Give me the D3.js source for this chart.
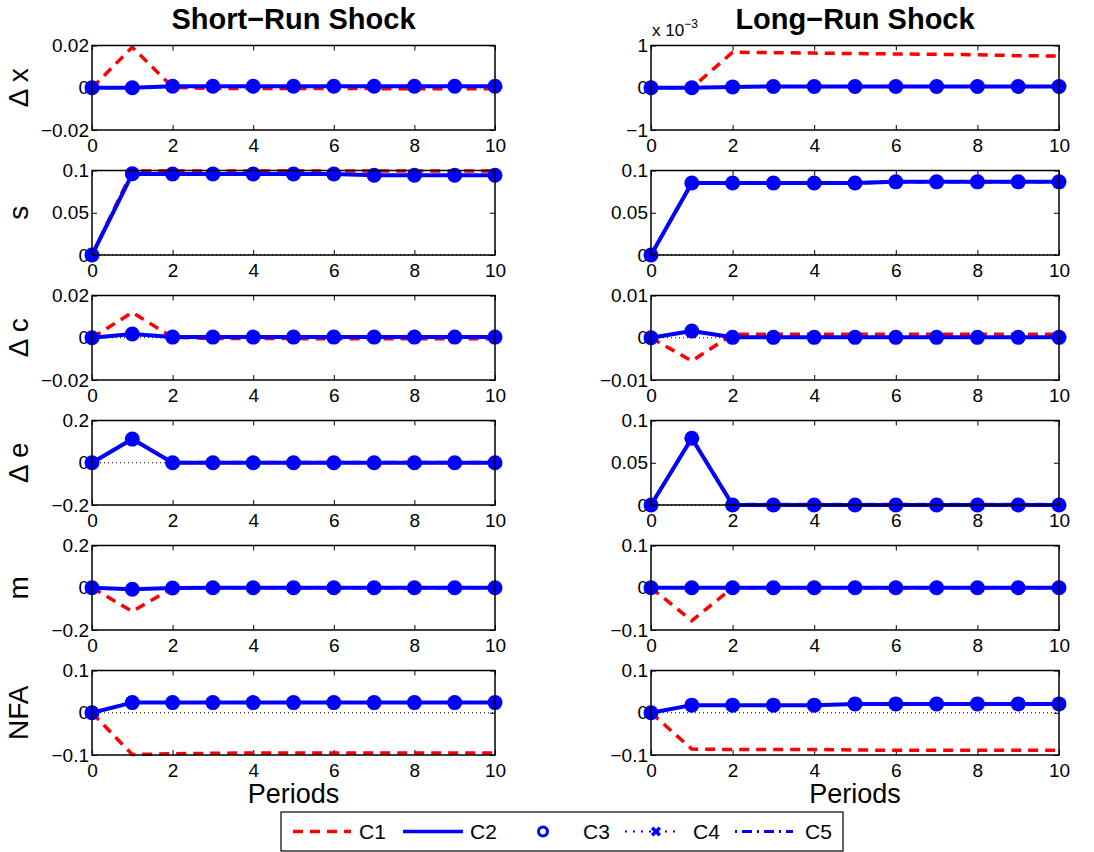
<!DOCTYPE html>
<html>
<head>
<meta charset="utf-8">
<script src="https://cdn.jsdelivr.net/npm/d3@7"></script>
<style>
  body { margin: 0; background: #fff; }
  svg { display: block; font-family: "Liberation Sans", Arial, sans-serif; }
</style>
</head>
<body>
<svg id="chart" width="1094" height="852"></svg>
<script>
// periods on the x axis
const periods = [0, 1, 2, 3, 4, 5, 6, 7, 8, 9, 10];
const xTicks = [0, 2, 4, 6, 8, 10];

const rowLabels = ['Δ x', 's', 'Δ c', 'Δ e', 'm', 'NFA'];
const colTitles = ['Short\u2212Run Shock', 'Long\u2212Run Shock'];
const legendNames = ['C1', 'C2', 'C3', 'C4', 'C5'];

// short-run shock, C1 (red dashed) and C2 (blue with markers)
const srDxC1  = [0, 0.0192, 0.0002, -0.0003, -0.0003, -0.0004, -0.0004, -0.0004, -0.0005, -0.0005, -0.0005];
const srDxC2  = [0, 0.0000, 0.0007, 0.0007, 0.0007, 0.0007, 0.0007, 0.0007, 0.0007, 0.0007, 0.0007];
const srSC1   = [0, 0.0993, 0.0993, 0.0993, 0.0993, 0.0993, 0.0993, 0.0993, 0.0993, 0.0993, 0.0993];
const srSC2   = [0, 0.0961, 0.0958, 0.0958, 0.0958, 0.0958, 0.0958, 0.0943, 0.0943, 0.0943, 0.0943];
const srDcC1  = [0, 0.0120, 0.0002, -0.0004, -0.0004, -0.0004, -0.0005, -0.0005, -0.0005, -0.0005, -0.0005];
const srDcC2  = [0, 0.0018, 0.0003, 0.0003, 0.0003, 0.0003, 0.0003, 0.0003, 0.0003, 0.0003, 0.0003];
const srDeC1  = [0, 0.112, 0.001, 0.001, 0.001, 0.001, 0.001, 0.001, 0.001, 0.001, 0.001];
const srDeC2  = [0, 0.112, 0.000, 0.000, 0.000, 0.000, 0.000, 0.000, 0.000, 0.000, 0.000];
const srMC1   = [0, -0.112, -0.001, 0, 0, 0, 0, 0, 0, 0, 0];
const srMC2   = [0, -0.007, -0.001, 0, 0, 0, 0, 0, 0, 0, 0];
const srNfaC1 = [0, -0.099, -0.097, -0.096, -0.095, -0.095, -0.095, -0.095, -0.095, -0.095, -0.095];
const srNfaC2 = [0, 0.024, 0.024, 0.024, 0.024, 0.024, 0.024, 0.024, 0.024, 0.024, 0.024];

// long-run shock
const lrDxC1  = [0, 0, 0.00084, 0.00083, 0.00082, 0.00081, 0.00080, 0.00079, 0.00078, 0.00076, 0.00075];
const lrDxC2  = [0, 0, 0.00002, 0.00003, 0.00003, 0.00003, 0.00003, 0.00003, 0.00003, 0.00003, 0.00003];
const lrSC1   = [0, 0.0852, 0.0852, 0.0852, 0.0852, 0.0852, 0.0866, 0.0866, 0.0866, 0.0866, 0.0866];
const lrSC2   = [0, 0.0852, 0.0852, 0.0852, 0.0852, 0.0852, 0.0866, 0.0866, 0.0866, 0.0866, 0.0866];
const lrDcC1  = [0, -0.0055, 0.0008, 0.0008, 0.0008, 0.0008, 0.0008, 0.0008, 0.0008, 0.0008, 0.0008];
const lrDcC2  = [0, 0.0016, 0.0001, 0.0001, 0.0001, 0.0001, 0.0001, 0.0001, 0.0001, 0.0001, 0.0001];
const lrDeC1  = [0, 0.079, 0.0005, 0.0005, 0.0005, 0.0005, 0.0005, 0.0005, 0.0005, 0.0005, 0.0005];
const lrDeC2  = [0, 0.079, 0, 0, 0, 0, 0, 0, 0, 0, 0];
const lrMC1   = [0, -0.078, 0, 0, 0, 0, 0, 0, 0, 0, 0];
const lrMC2   = [0, 0, 0, 0, 0, 0, 0, 0, 0, 0, 0];
const lrNfaC1 = [0, -0.086, -0.087, -0.087, -0.087, -0.088, -0.089, -0.089, -0.089, -0.089, -0.089];
const lrNfaC2 = [0, 0.018, 0.018, 0.018, 0.018, 0.021, 0.021, 0.021, 0.021, 0.021, 0.021];

// y axis ranges and tick labels
const srDomains = [[-0.02, 0.02], [0, 0.1], [-0.02, 0.02], [-0.2, 0.2], [-0.2, 0.2], [-0.1, 0.1]];
const lrDomains = [[-0.001, 0.001], [0, 0.1], [-0.01, 0.01], [0, 0.1], [-0.1, 0.1], [-0.1, 0.1]];
const srTickLabels = [['\u22120.02', '0', '0.02'], ['0', '0.05', '0.1'], ['\u22120.02', '0', '0.02'],
                      ['\u22120.2', '0', '0.2'], ['\u22120.2', '0', '0.2'], ['\u22120.1', '0', '0.1']];
const lrTickLabels = [['\u22121', '0', '1'], ['0', '0.05', '0.1'], ['\u22120.01', '0', '0.01'],
                      ['0', '0.05', '0.1'], ['\u22120.1', '0', '0.1'], ['\u22120.1', '0', '0.1']];

const columns = [
  { c1: [srDxC1, srSC1, srDcC1, srDeC1, srMC1, srNfaC1],
    c2: [srDxC2, srSC2, srDcC2, srDeC2, srMC2, srNfaC2],
    domains: srDomains, labels: srTickLabels, left: 92, right: 495 },
  { c1: [lrDxC1, lrSC1, lrDcC1, lrDeC1, lrMC1, lrNfaC1],
    c2: [lrDxC2, lrSC2, lrDcC2, lrDeC2, lrMC2, lrNfaC2],
    domains: lrDomains, labels: lrTickLabels, left: 651, right: 1059 }
];

const RED = '#ff0000';
const BLUE = '#0000ff';
const TOP0 = 45.5, STEP = 125, PH = 84.5;

const svg = d3.select('#chart');

columns.forEach((col, ci) => {
  const x = d3.scaleLinear().domain([0, 10]).range([col.left, col.right]);

  svg.append('text')
    .attr('x', (col.left + col.right) / 2).attr('y', 29)
    .attr('text-anchor', 'middle')
    .attr('font-size', 29).attr('font-weight', 'bold')
    .text(colTitles[ci]);

  svg.append('text')
    .attr('x', (col.left + col.right) / 2).attr('y', 803)
    .attr('text-anchor', 'middle')
    .attr('font-size', 27)
    .text('Periods');

  col.c1.forEach((_, ri) => {
    const top = TOP0 + STEP * ri;
    const dom = col.domains[ri];
    const y = d3.scaleLinear().domain(dom).range([top + PH, top]);
    const yTicks = [dom[0], (dom[0] + dom[1]) / 2, dom[1]];
    const g = svg.append('g');

    // zero reference line
    g.append('line')
      .attr('x1', x(0)).attr('x2', x(10))
      .attr('y1', y(0)).attr('y2', y(0))
      .attr('stroke', '#000').attr('stroke-width', 1)
      .attr('stroke-dasharray', '1,3');

    // axes with inward ticks
    const bottom = g.append('g').attr('transform', `translate(0,${top + PH})`)
      .call(d3.axisBottom(x).tickValues(xTicks).tickSizeInner(-5).tickSizeOuter(0).tickPadding(4));
    const topAx = g.append('g').attr('transform', `translate(0,${top})`)
      .call(d3.axisTop(x).tickValues(xTicks).tickSizeInner(-5).tickSizeOuter(0).tickFormat(''));
    const leftAx = g.append('g').attr('transform', `translate(${col.left},0)`)
      .call(d3.axisLeft(y).tickValues(yTicks).tickSizeInner(-5).tickSizeOuter(0).tickPadding(3)
        .tickFormat((d, i) => col.labels[ri][i]));
    const rightAx = g.append('g').attr('transform', `translate(${col.right},0)`)
      .call(d3.axisRight(y).tickValues(yTicks).tickSizeInner(-5).tickSizeOuter(0).tickFormat(''));
    [bottom, topAx, leftAx, rightAx].forEach(a => {
      a.select('.domain').remove();
      a.selectAll('line').attr('stroke', '#000');
      a.selectAll('text').attr('font-size', 19).attr('font-family', '"Liberation Sans", Arial, sans-serif').attr('fill', '#000');
    });
    bottom.selectAll('text').attr('dy', '0.95em');

    const line = d3.line().x((d, i) => x(periods[i])).y(d => y(d));

    g.append('path').datum(col.c1[ri])
      .attr('d', line).attr('fill', 'none')
      .attr('stroke', RED).attr('stroke-width', 3.5)
      .attr('stroke-dasharray', '10,7');

    g.append('path').datum(col.c2[ri])
      .attr('d', line).attr('fill', 'none')
      .attr('stroke', BLUE).attr('stroke-width', 4)
      .attr('stroke-linejoin', 'round');

    g.selectAll('circle.m').data(col.c2[ri]).enter().append('circle')
      .attr('class', 'm')
      .attr('cx', (d, i) => x(periods[i])).attr('cy', d => y(d))
      .attr('r', 7.5).attr('fill', BLUE);

    // plot frame
    g.append('rect')
      .attr('x', col.left).attr('y', top)
      .attr('width', col.right - col.left).attr('height', PH)
      .attr('fill', 'none').attr('stroke', '#000').attr('stroke-width', 1.5);

    if (ci === 0) {
      svg.append('text')
        .attr('transform', `translate(28,${top + PH / 2}) rotate(-90)`)
        .attr('text-anchor', 'middle')
        .attr('font-size', 28)
        .text(rowLabels[ri]);
    }
    if (ci === 1 && ri === 0) {
      const t = svg.append('text').attr('x', col.left + 1).attr('y', 36).attr('font-size', 17);
      t.append('tspan').text('x 10');
      t.append('tspan').attr('font-size', 12).attr('dy', -8).text('\u22123');
    }
  });
});

// legend
const lg = svg.append('g');
lg.append('rect').attr('x', 281).attr('y', 812).attr('width', 562).attr('height', 39)
  .attr('fill', '#fff').attr('stroke', '#000').attr('stroke-width', 1.2);
const ly = 831.5;
const legendItems = [
  { x0: 293, x1: 351, tx: 359, stroke: RED, width: 3.5, dash: '10,7' },
  { x0: 403, x1: 463, tx: 470, stroke: BLUE, width: 3.5, dash: null },
  { x0: null, mark: 543, tx: 583 },
  { x0: 625, x1: 680, tx: 693, stroke: BLUE, width: 2, dash: '2,6', cross: 656 },
  { x0: 735, x1: 793, tx: 805, stroke: BLUE, width: 3, dash: '2,5,10,5' }
];
legendItems.forEach((it, i) => {
  if (it.x0 !== null) {
    lg.append('line').attr('x1', it.x0).attr('x2', it.x1).attr('y1', ly).attr('y2', ly)
      .attr('stroke', it.stroke).attr('stroke-width', it.width)
      .attr('stroke-dasharray', it.dash);
  }
  if (it.mark) {
    lg.append('circle').attr('cx', it.mark).attr('cy', ly).attr('r', 4.5)
      .attr('fill', 'none').attr('stroke', BLUE).attr('stroke-width', 3);
  }
  if (it.cross) {
    lg.append('path').attr('d', d3.symbol(d3.symbolX, 40)())
      .attr('transform', `translate(${it.cross},${ly})`)
      .attr('stroke', BLUE).attr('stroke-width', 3.5);
  }
  lg.append('text').attr('x', it.tx).attr('y', ly + 7.5)
    .attr('font-size', 21).text(legendNames[i]);
});
</script>
</body>
</html>
